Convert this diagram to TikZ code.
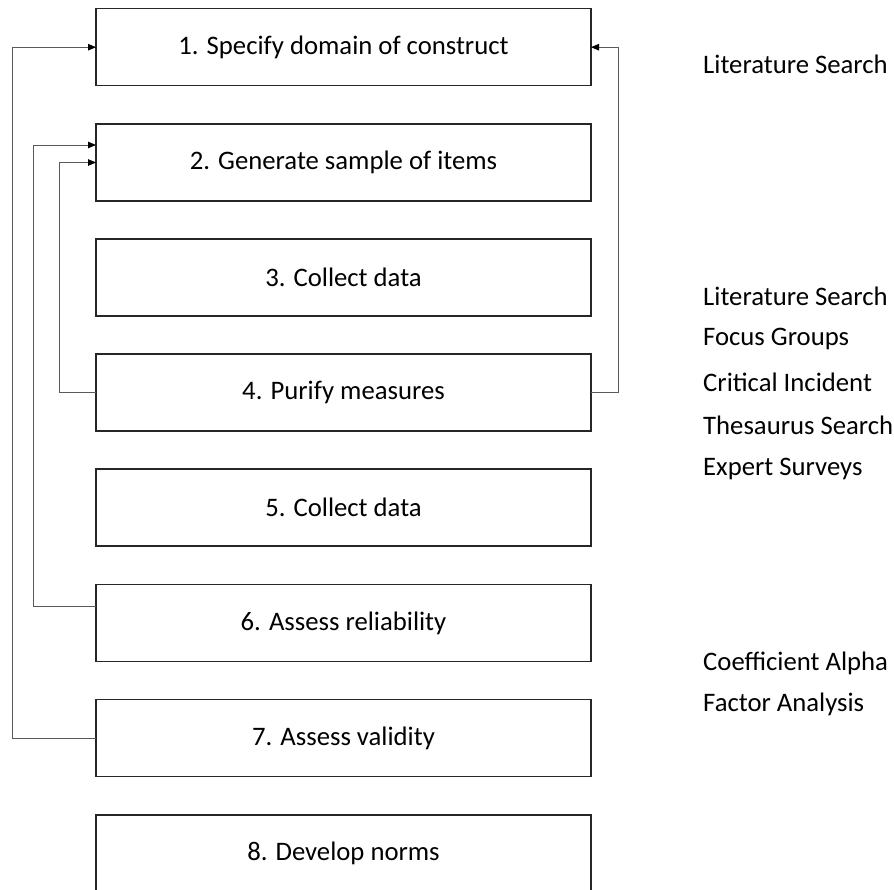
\documentclass[tikz,border=0pt]{standalone}
\usepackage{fontspec}
\setmainfont{Carlito}
\usetikzlibrary{arrows.meta}
\begin{document}
\begin{tikzpicture}[x=1pt,y=-1pt,
  stepbox/.style={draw=black!85, line width=1.3pt, minimum width=495pt,
    minimum height=77pt, inner sep=0pt, outer sep=0pt,
    font=\fontsize{26.7}{32}\selectfont},
  note/.style={anchor=west, inner sep=0pt, font=\fontsize{26.7}{32}\selectfont},
  conn/.style={draw=black!65, line width=0.9pt,
    -{Triangle[length=8pt,width=6.5pt,fill=black,color=black]}}]
\clip (0,0) rectangle (894,889);
\fill[white] (0,0) rectangle (894,889);

% process steps
\node[stepbox] (b1) at (343.5,47.2)  {1. Specify domain of construct};
\node[stepbox] (b2) at (343.5,162.5) {2. Generate sample of items};
\node[stepbox] (b3) at (343.5,277.5) {3. Collect data};
\node[stepbox] (b4) at (343.5,392.5) {4. Purify measures};
\node[stepbox] (b5) at (343.5,507.5) {5. Collect data};
\node[stepbox] (b6) at (343.5,623)   {6. Assess reliability};
\node[stepbox] (b7) at (343.5,738)   {7. Assess validity};
\node[stepbox] (b8) at (343.5,853.5) {8. Develop norms};

% feedback loops
\draw[conn] (b4.west) -- ++(-37,0) |- (b2.west);
\draw[conn] ([yshift=17pt]b6.west) -- ++(-63,0) |- ([yshift=17.5pt]b2.west);
\draw[conn] (b7.west) -- ++(-84,0) |- (b1.west);
\draw[conn] (b4.east) -- ++(27,0) |- (b1.east);

% techniques
\node[note] (t1) at (703,64)  {Literature Search};
\node[note] (t2) at (703,296) {Literature Search};
\node[note] (t3) at (703,339) {Focus Groups};
\node[note] (t4) at (703,382) {Critical Incident};
\node[note] (t5) at (703,425) {Thesaurus Search};
\node[note] (t6) at (703,469) {Expert Surveys};
\node[note] (t7) at (703,663) {Coefficient Alpha};
\node[note] (t8) at (703,704) {Factor Analysis};
\end{tikzpicture}
\end{document}
